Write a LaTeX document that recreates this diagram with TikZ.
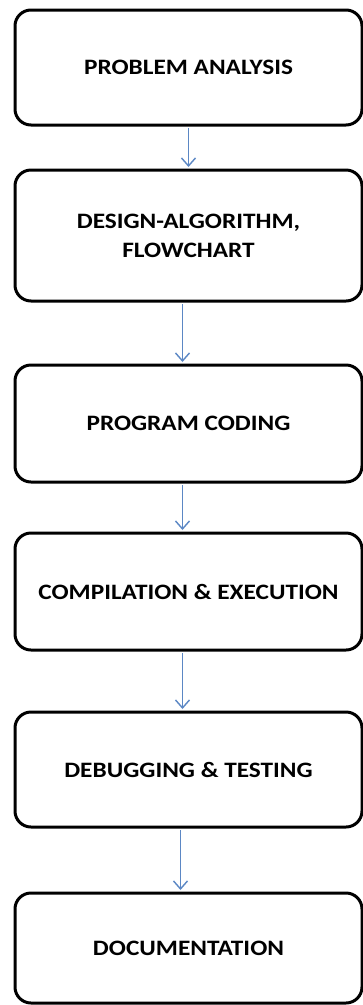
\documentclass[tikz,border=0pt]{standalone}
\usepackage{fontspec}
\setmainfont{Carlito}[FakeStretch=1.15]
\usetikzlibrary{arrows.meta}
\definecolor{arrblue}{HTML}{5B87C4}
\tikzset{
  stepbox/.style={draw=black, line width=3pt, rounded corners=16pt, minimum width=347pt, inner sep=0pt, align=center, font=\fontsize{22}{29}\selectfont\bfseries},
  flowarr/.style={draw=arrblue, line width=1.4pt, -{Straight Barb[length=8pt,width=14pt,line width=1.4pt]}}
}
\begin{document}
\begin{tikzpicture}[x=1pt,y=-1pt]
\useasboundingbox (0,0) rectangle (363,1005);
\node[stepbox, minimum height=115pt] (b1) at (188.5,67.5) {PROBLEM ANALYSIS};
\node[stepbox, minimum height=131pt] (b2) at (188.5,235.5) {DESIGN-ALGORITHM,\\FLOWCHART};
\node[stepbox, minimum height=117pt] (b3) at (188.5,423.5) {PROGRAM CODING};
\node[stepbox, minimum height=117pt] (b4) at (188.5,591.5) {COMPILATION \& EXECUTION};
\node[stepbox, minimum height=115pt] (b5) at (188.5,769.5) {DEBUGGING \& TESTING};
\node[stepbox, minimum height=110pt] (b6) at (188.5,948) {DOCUMENTATION};
\draw[flowarr] ([yshift=-1.5pt]b1.south) -- ([yshift=1.5pt]b2.north);
\draw[flowarr] ([xshift=-6pt,yshift=-1.5pt]b2.south) -- ([xshift=-6pt,yshift=1.5pt]b3.north);
\draw[flowarr] ([xshift=-6pt,yshift=-1.5pt]b3.south) -- ([xshift=-6pt,yshift=1.5pt]b4.north);
\draw[flowarr] ([xshift=-6pt,yshift=-1.5pt]b4.south) -- ([xshift=-6pt,yshift=1.5pt]b5.north);
\draw[flowarr] ([xshift=-8pt,yshift=-1.5pt]b5.south) -- ([xshift=-8pt,yshift=1.5pt]b6.north);
\end{tikzpicture}
\end{document}
